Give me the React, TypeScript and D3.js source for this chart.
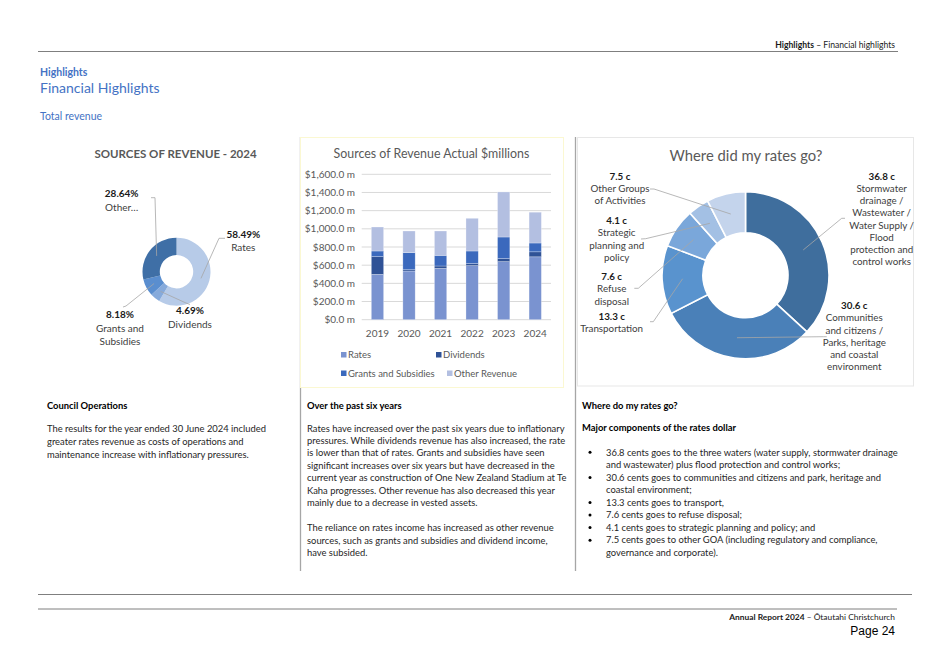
import React from 'react';
import * as d3 from 'd3';

// ---------- DATA ----------
const years = ['2019', '2020', '2021', '2022', '2023', '2024'];
const ratesRevenue = [499, 536, 565, 595, 639, 692];
const dividendsRevenue = [195, 14, 26, 22, 33, 55];
const grantsRevenue = [62, 188, 117, 139, 238, 97];
const otherRevenue = [264, 238, 268, 360, 496, 339];
const revenueKeys = ['Rates', 'Dividends', 'Grants and Subsidies', 'Other Revenue'];
const yTickValues = [0, 200, 400, 600, 800, 1000, 1200, 1400, 1600];

const share2024Names = [['Rates'], ['Dividends'], ['Grants and', 'Subsidies'], ['Other…']];
const share2024Values = [58.49, 4.69, 8.18, 28.64];

const ratesGoNames = [
  ['Stormwater', 'drainage /', 'Wastewater /', 'Water Supply /', 'Flood', 'protection and', 'control works'],
  ['Communities', 'and citizens /', 'Parks, heritage', 'and coastal', 'environment'],
  ['Transportation'],
  ['Refuse', 'disposal'],
  ['Strategic', 'planning and', 'policy'],
  ['Other Groups', 'of Activities'],
];
const ratesGoCents = [36.8, 30.6, 13.3, 7.6, 4.1, 7.5];

// ---------- STYLE ----------
const revenueColors = ['#7a93d0', '#2f5296', '#3b69bd', '#b3bfe1'];
const share2024Colors = ['#b7cbe8', '#86aadb', '#5a8ecf', '#3f6fa6'];
const ratesGoColors = ['#3f6e9d', '#4a80b8', '#5993ce', '#7aa7da', '#a3c0e4', '#c4d4ec'];
const BLUE = '#4472c4';
const FONT = 'Lato, "Open Sans", sans-serif';
const TXT = '#262626';
const CH = '#404040';
const BODY = 9.4;

const councilLines = [
  'The results for the year ended 30 June 2024 included',
  'greater rates revenue as costs of operations and',
  'maintenance increase with inflationary pressures.',
];
const pastLines = [
  'Rates have increased over the past six years due to inflationary',
  'pressures. While dividends revenue has also increased, the rate',
  'is lower than that of rates. Grants and subsidies have seen',
  'significant increases over six years but have decreased in the',
  'current year as construction of One New Zealand Stadium at Te',
  'Kaha progresses. Other revenue has also decreased this year',
  'mainly due to a decrease in vested assets.',
  '',
  'The reliance on rates income has increased as other revenue',
  'sources, such as grants and subsidies and dividend income,',
  'have subsided.',
];
const bullets = [
  ['36.8 cents goes to the three waters (water supply, stormwater drainage', 'and wastewater) plus flood protection and control works;'],
  ['30.6 cents goes to communities and citizens and park, heritage and', 'coastal environment;'],
  ['13.3 cents goes to transport,'],
  ['7.6 cents goes to refuse disposal;'],
  ['4.1 cents goes to strategic planning and policy; and'],
  ['7.5 cents goes to other GOA (including regulatory and compliance,', 'governance and corporate).'],
];

function BarChart() {
  const x = d3.scaleBand<string>().domain(years).range([361.7, 551]).paddingInner(0.61).paddingOuter(0.305);
  const y = d3.scaleLinear().domain([0, 1600]).range([319.7, 174.3]);
  const rows = years.map((yr, i) => ({
    year: yr,
    Rates: ratesRevenue[i],
    Dividends: dividendsRevenue[i],
    'Grants and Subsidies': grantsRevenue[i],
    'Other Revenue': otherRevenue[i],
  }));
  const stack = d3.stack<any>().keys(revenueKeys)(rows);
  const fmt = (v: number) => '$' + d3.format(',.1f')(v) + ' m';
  const legendPos = [
    [341, 355],
    [436, 355],
    [341, 373.5],
    [447, 373.5],
  ];
  return (
    <g fontFamily={FONT}>
      <rect x={300.5} y={137.5} width={263} height={250} fill="#fff" stroke="#fbf8d2" strokeWidth={1} />
      <text x={431.5} y={157.5} textAnchor="middle" fontSize={12.4} fill="#595959">
        Sources of Revenue Actual $millions
      </text>
      {yTickValues.map((t) => (
        <g key={t}>
          <line x1={361.7} x2={551} y1={y(t)} y2={y(t)} stroke="#d9d9d9" strokeWidth={1} />
          <text x={355} y={y(t) + 3.5} textAnchor="end" fontSize={10} fill="#595959">
            {fmt(t)}
          </text>
        </g>
      ))}
      {stack.map((s, si) => (
        <g key={s.key} fill={revenueColors[si]}>
          {s.map((d, i) => (
            <rect
              key={i}
              x={x(years[i])}
              width={x.bandwidth()}
              y={y(d[1])}
              height={y(d[0]) - y(d[1])}
              stroke="#ffffff"
              strokeOpacity={0.45}
              strokeWidth={0.6}
            />
          ))}
        </g>
      ))}
      {years.map((yr) => (
        <text key={yr} x={(x(yr) as number) + x.bandwidth() / 2} y={336.5} textAnchor="middle" fontSize={10} fill="#595959">
          {yr}
        </text>
      ))}
      {revenueKeys.map((k, i) => (
        <g key={k}>
          <rect x={legendPos[i][0]} y={legendPos[i][1] - 3} width={5.5} height={5.5} fill={revenueColors[i]} />
          <text x={legendPos[i][0] + 7} y={legendPos[i][1] + 3.2} fontSize={9.5} fill="#595959">
            {k}
          </text>
        </g>
      ))}
    </g>
  );
}

function Donut2024() {
  const cx = 176.5, cy = 271.7, rIn = 16.7, rOut = 34;
  const pie = d3.pie<number>().sort(null).value((d) => d)(share2024Values);
  const arc = d3.arc<any>().innerRadius(rIn).outerRadius(rOut);
  const mid = d3.arc<any>().innerRadius((rIn + rOut) / 2).outerRadius((rIn + rOut) / 2);
  const labels = [
    { x: 243.3, y: 237.5, start: [225, 238.3], elbow: [219, 238.3] },
    { x: 190, y: 314, start: [190, 304.5], elbow: [186, 303] },
    { x: 120, y: 318, start: [123, 307], elbow: [126, 306] },
    { x: 121.7, y: 197, start: [151, 197.7], elbow: [155, 197.7] },
  ];
  return (
    <g fontFamily={FONT}>
      <text x={175.5} y={157.5} textAnchor="middle" fontSize={11.5} fontWeight={700} fill="#595959">
        SOURCES OF REVENUE - 2024
      </text>
      <g transform={`translate(${cx},${cy})`}>
        {pie.map((p, i) => (
          <path key={i} d={arc(p) as string} fill={share2024Colors[i]} />
        ))}
      </g>
      {pie.map((p, i) => {
        const c = mid.centroid(p);
        const L = labels[i];
        return (
          <polyline
            key={'l' + i}
            points={`${L.start[0]},${L.start[1]} ${L.elbow[0]},${L.elbow[1]} ${cx + c[0]},${cy + c[1]}`}
            fill="none"
            stroke="#a6a6a6"
            strokeWidth={0.8}
          />
        );
      })}
      {pie.map((p, i) => {
        const L = labels[i];
        return (
          <text key={'t' + i} x={L.x} textAnchor="middle" fontSize={10} fill={CH}>
            <tspan x={L.x} y={L.y} fontWeight={700} fill="#1a1a1a">
              {share2024Values[i].toFixed(2) + '%'}
            </tspan>
            {share2024Names[i].map((ln, j) => (
              <tspan key={j} x={L.x} y={L.y + 13.5 * (j + 1) - (i === 0 ? 0.5 : 0)}>
                {ln}
              </tspan>
            ))}
          </text>
        );
      })}
    </g>
  );
}

function DonutRates() {
  const cx = 745.5, cy = 275.3, rIn = 42.5, rOut = 83.5;
  const pie = d3.pie<number>().sort(null).value((d) => d)(ratesGoCents);
  const arc = d3.arc<any>().innerRadius(rIn).outerRadius(rOut);
  const mid = d3.arc<any>().innerRadius((rIn + rOut) / 2).outerRadius((rIn + rOut) / 2);
  const labels = [
    { x: 881.7, y: 179.5, start: [845, 218.3], elbow: [841.7, 218.3] },
    { x: 854.3, y: 309.2, start: [826.7, 336.7], elbow: [823.3, 336.7] },
    { x: 611.7, y: 319.5, start: [650, 321.7], elbow: [653.3, 321.7] },
    { x: 611.7, y: 280.2, start: [634.3, 288.3], elbow: [638.3, 288.3] },
    { x: 616.7, y: 224.2, start: [641, 239], elbow: [645.7, 238.7] },
    { x: 620, y: 179.5, start: [650, 189], elbow: [654, 189] },
  ];
  return (
    <g fontFamily={FONT}>
      <rect x={577.5} y={137.5} width={336} height={248.5} fill="#fff" stroke="#e7e7e7" strokeWidth={1} />
      <text x={746} y={160.5} textAnchor="middle" fontSize={14.8} fill="#595959">
        Where did my rates go?
      </text>
      <g transform={`translate(${cx},${cy})`}>
        {pie.map((p, i) => (
          <path key={i} d={arc(p) as string} fill={ratesGoColors[i]} stroke="#fff" strokeWidth={1.6} />
        ))}
      </g>
      {pie.map((p, i) => {
        const c = mid.centroid(p);
        const L = labels[i];
        return (
          <polyline
            key={'l' + i}
            points={`${L.start[0]},${L.start[1]} ${L.elbow[0]},${L.elbow[1]} ${cx + c[0]},${cy + c[1]}`}
            fill="none"
            stroke="#a6a6a6"
            strokeWidth={0.8}
          />
        );
      })}
      {pie.map((p, i) => {
        const L = labels[i];
        return (
          <text key={'t' + i} x={L.x} textAnchor="middle" fontSize={9.8} fill={CH}>
            <tspan x={L.x} y={L.y} fontWeight={700} fill="#1a1a1a">
              {ratesGoCents[i].toFixed(1) + ' c'}
            </tspan>
            {ratesGoNames[i].map((ln, j) => (
              <tspan key={j} x={L.x} y={L.y + 12.25 * (j + 1)}>
                {ln}
              </tspan>
            ))}
          </text>
        );
      })}
    </g>
  );
}

export default function App() {
  return (
    <svg
      width={934}
      height={661}
      viewBox="0 0 934 661"
      style={{ position: 'absolute', left: 0, top: 0, background: '#fff' }}
      fontFamily={FONT}
    >
      <rect x={0} y={0} width={934} height={661} fill="#fff" />
      {/* header */}
      <text x={895} y={48} textAnchor="end" fontSize={8.6} fill="#1a1a1a">
        <tspan fontWeight={700}>Highlights</tspan>
        <tspan> – Financial highlights</tspan>
      </text>
      <line x1={38} x2={898} y1={51.5} y2={51.5} stroke="#7f7f7f" strokeWidth={1.2} />
      <text x={40} y={75.5} fontSize={10.5} fontWeight={700} fill={BLUE}>Highlights</text>
      <text x={40} y={93} fontSize={14} fill={BLUE}>Financial Highlights</text>
      <text x={40} y={120} fontSize={10.5} fill={BLUE}>Total revenue</text>

      {/* separators */}
      <line x1={300.5} x2={300.5} y1={137} y2={571} stroke="#a6a6a6" strokeWidth={1.3} />
      <line x1={575.5} x2={575.5} y1={137} y2={571} stroke="#a6a6a6" strokeWidth={1.3} />

      <Donut2024 />
      <BarChart />
      <DonutRates />

      {/* text blocks */}
      <text x={47} y={408.5} fontSize={BODY} fontWeight={700} fill="#000">Council Operations</text>
      {councilLines.map((ln, i) => (
        <text key={i} x={47} y={431.5 + i * 13.1} fontSize={BODY} fill={TXT}>{ln}</text>
      ))}

      <text x={307} y={408.5} fontSize={BODY} fontWeight={700} fill="#000">Over the past six years</text>
      {pastLines.map((ln, i) => (
        <text key={i} x={307} y={431.5 + i * 12.45} fontSize={BODY} fill={TXT}>{ln}</text>
      ))}

      <text x={582} y={408.5} fontSize={BODY} fontWeight={700} fill="#000">Where do my rates go?</text>
      <text x={582} y={430.5} fontSize={BODY} fontWeight={700} fill="#000">Major components of the rates dollar</text>
      {(() => {
        let lineIdx = 0;
        return bullets.map((b, bi) => {
          const startY = 455.5 + lineIdx * 12.55;
          lineIdx += b.length;
          return (
            <g key={bi}>
              <circle cx={590} cy={startY - 3.2} r={1.5} fill="#000" />
              {b.map((ln, j) => (
                <text key={j} x={606} y={startY + j * 12.55} fontSize={BODY} fill={TXT}>{ln}</text>
              ))}
            </g>
          );
        });
      })()}

      {/* footer */}
      <line x1={38} x2={912} y1={594.5} y2={594.5} stroke="#7f7f7f" strokeWidth={1.2} />
      <line x1={38} x2={897} y1={609} y2={609} stroke="#7f7f7f" strokeWidth={1} />
      <text x={895} y={620} textAnchor="end" fontSize={8.4} fill="#1a1a1a">
        <tspan fontWeight={700}>Annual Report 2024</tspan>
        <tspan> – Ōtautahi Christchurch</tspan>
      </text>
      <text x={895} y={634.5} textAnchor="end" fontSize={12} fontFamily='"Liberation Sans", Arial, sans-serif' fill="#000">
        Page 24
      </text>
    </svg>
  );
}
